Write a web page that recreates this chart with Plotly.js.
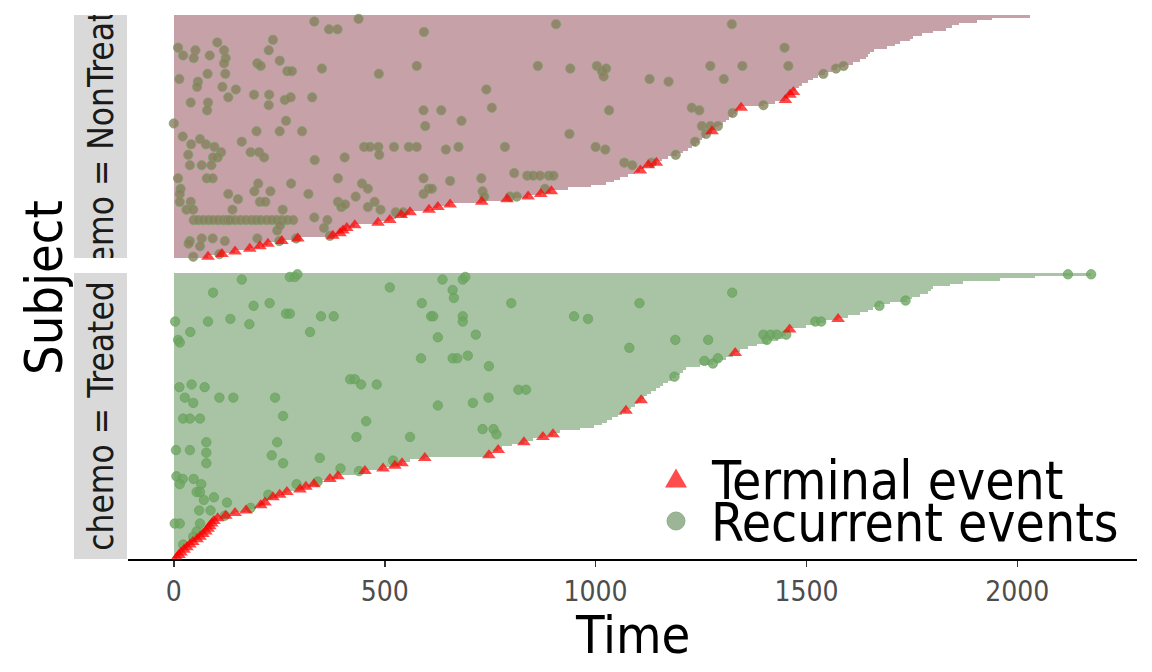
<!DOCTYPE html>
<html>
<head>
<meta charset="utf-8">
<script src="https://cdn.plot.ly/plotly-3.0.1.min.js"></script>
<style>html,body{margin:0;padding:0;background:#fff}#chart{width:1152px;height:672px}</style>
</head>
<body>
<div id="chart"></div>
<script>
// ---------------- data ----------------
const groups = ['NonTreated', 'Treated'];
const stripPrefix = 'chemo = ';
const seriesNames = ['Terminal event', 'Recurrent events'];
const axisTitles = ['Time', 'Subject'];
const tickVals = [0, 500, 1000, 1500, 2000];
const tickText = ['0', '500', '1000', '1500', '2000'];

// follow-up time of every subject, sorted (index 0 = shortest, at the bottom)
const followNon = [81,114,145,180,204,223,256,294,377,394,401,410,429,484,512,527,539,560,605,626,
  655,730,790,840,870,895,935,990,1025,1044,1058,1077,1094,1106,1115,1125,1144,1158,1172,1193,
  1208,1219,1229,1238,1246,1253,1260,1267,1276,1284,1293,1302,1310,1317,1326,1333,1338,1345,1400,1426,
  1450,1457,1461,1469,1476,1483,1490,1504,1516,1528,1544,1561,1573,1592,1610,1628,1642,1646,1651,1660,
  1690,1710,1722,1746,1753,1775,1800,1830,1845,1862,1905,1941,2030];
const termNon = [0,1,2,3,4,5,6,7,8,9,10,11,12,13,14,16,17,18,19,20,21,22,23,24,25,33,35,36,48,57,60,62,63];
const recNonRow = [90,91,87,87,86,89,82,83,80,77, 79,76,77,79,76,74,79,74,73,75,
  71,71,72,70,73,73,72,73,71,69, 72,68,67,70,70,65,65,64,61,62,
  62,58,60,61,61,59,59,56,52,56, 56,64,57,52,50,51,46,48,48,48,
  47,43,45,43,42,39,40,38,38,44, 40,40,38,37,38,42,42,42,39,42,
  42,42,41,42,42,42,41,35,35,35, 30,30,30,30,30,29,30,32,31,31,
  31,31,31,26,24,21,21,18,18,24, 22,18,28,25,25,21,21,18,28,24,
  15,14,11,21,19,20,23,28,26,19, 21,18,24,26,26,25,23,26,23,23, 17,17,
  14,14,14,14,14,14,14,14,14,14,14,14,14,14,14,14,14,14,14,14,14,
  10,12,6,7,7,6,4,5,7,0,1,6,7,8,
  73,73,73,68,67,68,70,72,73,56,57,56,55,58,36,35,36,39,44,50,50,50,47,89,80];
const recNonTime = [333,438,368,388,593,906,103,235,10,22, 51,47,85,119,123,119,225,198,206,251,
  269,280,351,486,576,863,940,1003,1015,1019, 1025,13,57,80,122,55,115,147,129,190,
  226,225,263,277,328,40,81,79,266,592, 634,741,754,682,596,0,21,196,251,304,
  938,41,62,76,96,34,112,104,93,161, 182,202,214,334,405,451,465,485,487,522,
  557,576,645,675,785,1000,1023,38,66,89, 10,78,92,389,592,655,729,807,838,852,
  868,889,900,16,14,14,40,30,46,129, 152,139,200,191,229,204,217,258,278,319,
  333,364,356,389,397,406,431,446,460,460, 476,490,592,604,612,732,736,880,797,813, 526,544,
  47,58,70,82,93,105,117,127,133,145,158,171,184,195,206,220,232,244,256,269,283,
  245,252,38,66,92,121,62,35,198,46,108,250,290,370,
  1272,1348,1457,1128,1173,1304,1540,1570,1588,1032,1228,1246,1325,1398,1068,1087,1133,1190,1236,1252,1272,1290,1262,1323,1448];

const followTrt = [7,12,17,24,31,38,45,55,62,69,76,81,85,90,95,104,123,145,171,195,
  206,216,223,235,251,268,299,313,332,351,370,389,429,453,496,524,541,560,595,747,
  754,769,778,802,830,852,875,899,916,963,996,1015,1027,1039,1053,1063,1072,1084,1094,1101,
  1108,1115,1122,1132,1144,1153,1160,1172,1181,1191,1200,1208,1215,1248,1279,1295,1310,1326,1331,1343,
  1362,1383,1409,1433,1445,1452,1456,1460,1499,1521,1544,1575,1599,1628,1646,1658,1675,1699,1738,1750,
  1770,1789,1796,1801,1841,1872,1960,2043,2175];
const termTrt = [0,1,2,3,4,5,6,7,8,9,10,11,12,13,14,15,16,17,18,20,21,23,24,25,26,27,28,30,31,33,34,35,36,38,39,41,44,46,47,56,60,78,87,91];
const recTrtRow = [106,107,107,108,103,106,106,107,102,99, 101,96,97,93,93,92,92,97,97,90,
  90,91,89,86,83,82,86,92,92,92, 90,84,85,92,91,76,76,76,77,73,
  65,66,65,68,68,66,66,61,59,61, 61,61,54,58,59,61,64,64,53,53,
  53,52,46,46,49,49,47,41,41,44, 40,36,44,39,36,38,34,37,31,30,
  28,30,28,25,25,22,23,18,18,21, 24,28,29,33,13,13,13,10,8,5, 19,16,
  97,101,80,83,83,75,74,76,69,85, 85,85,85,83,90,90,96,98,108,108];
const recTrtTime = [161,275,287,293,512,637,685,691,661,664, 93,189,227,266,275,349,379,588,800,3,
  81,134,179,39,10,14,323,610,615,685, 685,626,716,949,982,586,661,672,697,747,
  13,42,73,418,429,444,481,26,46,108, 141,240,259,626,709,746,817,835,22,38,
  62,456,433,560,732,758,765,5,38,77, 77,77,245,232,259,346,395,520,6,21,
  14,47,65,54,62,71,95,60,87,126, 224,291,341,439,2,14,62,54,46,22, 182,121,
  1104,1324,1080,1189,1267,1258,1278,1290,1187,1398, 1415,1430,1452,1406,1521,1535,1673,1735,2120,2175];

// ---------------- styling / layout ----------------
const FONT = '"DejaVu Sans Condensed", "Liberation Sans", sans-serif';
const W = 1152, H = 672, MT = 15, MB = 113;
const PH = H - MT - MB;
const px = v => v / W;                 // horizontal pixel -> paper
const py = v => (H - MB - v) / PH;     // vertical pixel -> paper
const topDom = [py(258), py(15)];
const botDom = [py(559), py(273)];

const panels = [
  {follow: followNon, term: termNon, recRow: recNonRow, recTime: recNonTime, yaxis: 'y',
   barColor: '#C6A2A8', recFill: 'rgba(135,128,92,0.8)', recLine: 'rgba(120,165,110,0.6)',
   sx: 'x2', sy: 'y3', label: stripPrefix + groups[0]},
  {follow: followTrt, term: termTrt, recRow: recTrtRow, recTime: recTrtTime, yaxis: 'y2',
   barColor: '#A9C4A5', recFill: 'rgba(110,165,98,0.8)', recLine: 'rgba(100,160,90,0.6)',
   sx: 'x3', sy: 'y4', label: stripPrefix + groups[1]}
];

const traces = [];
panels.forEach(p => {
  traces.push({type: 'bar', orientation: 'h', x: p.follow, y: p.follow.map((_, i) => i),
    width: 1, xaxis: 'x', yaxis: p.yaxis, marker: {color: p.barColor, line: {width: 0}},
    hoverinfo: 'skip', showlegend: false});
});
panels.forEach(p => {
  traces.push({type: 'scatter', mode: 'markers', name: seriesNames[1], x: p.recTime, y: p.recRow,
    xaxis: 'x', yaxis: p.yaxis, cliponaxis: false,
    marker: {symbol: 'circle', size: 9.5, color: p.recFill, line: {color: p.recLine, width: 1}},
    hoverinfo: 'x', showlegend: false});
});
panels.forEach(p => {
  traces.push({type: 'scatter', mode: 'markers', name: seriesNames[0],
    x: p.term.map(r => p.follow[r]), y: p.term, xaxis: 'x', yaxis: p.yaxis, cliponaxis: false,
    marker: {symbol: 'triangle-up', size: 12, color: 'rgba(255,0,0,0.72)', line: {width: 0}},
    hoverinfo: 'x', showlegend: false});
});
// facet strips (gray boxes with clipped rotated labels)
panels.forEach(p => {
  traces.push({type: 'bar', x: [0], y: [1], width: [1], xaxis: p.sx, yaxis: p.sy,
    marker: {color: '#D9D9D9', line: {width: 0}}, text: [p.label], textposition: 'inside',
    insidetextanchor: 'middle', textangle: -90, constraintext: 'none', cliponaxis: true,
    insidetextfont: {family: FONT, size: 35, color: '#1A1A1A'}, hoverinfo: 'skip', showlegend: false});
});

const hiddenY = (dom, n, anchor) => ({domain: dom, range: [-0.5, n - 0.5], anchor: anchor,
  visible: false, fixedrange: true});
const stripX = (anchor) => ({domain: [px(74), px(127)], range: [-0.5, 0.5], anchor: anchor,
  visible: false, fixedrange: true});

const layout = {
  width: W, height: H,
  margin: {l: 0, r: 0, t: MT, b: MB, pad: 0},
  paper_bgcolor: '#fff', plot_bgcolor: 'rgba(0,0,0,0)',
  font: {family: FONT, color: '#000'},
  showlegend: false, bargap: 0, barmode: 'overlay',
  xaxis: {domain: [px(128), px(1137)], range: [-108.75, 2283.75], anchor: 'y2',
    tickmode: 'array', tickvals: tickVals, ticktext: tickText,
    tickfont: {family: FONT, size: 28, color: '#4D4D4D'},
    ticks: 'outside', ticklen: 6, tickwidth: 1.6, tickcolor: '#333333',
    showline: true, linecolor: '#000', linewidth: 2, showgrid: false, zeroline: false,
    fixedrange: true},
  yaxis: hiddenY(topDom, followNon.length, 'x'),
  yaxis2: hiddenY(botDom, followTrt.length, 'x'),
  xaxis2: stripX('y3'),
  xaxis3: stripX('y4'),
  yaxis3: {domain: topDom, range: [0, 1], anchor: 'x2', visible: false, fixedrange: true},
  yaxis4: {domain: botDom, range: [0, 1], anchor: 'x3', visible: false, fixedrange: true},
  shapes: [
    {type: 'path', xref: 'paper', yref: 'paper',
     path: `M ${px(665)} ${py(487.5)} L ${px(687)} ${py(487.5)} L ${px(676)} ${py(468.5)} Z`,
     fillcolor: 'rgba(255,0,0,0.7)', line: {width: 0}},
    {type: 'circle', xref: 'paper', yref: 'paper', x0: px(667), x1: px(685), y0: py(530), y1: py(512),
     fillcolor: '#9DB597', line: {color: '#8FAF88', width: 1}}
  ],
  annotations: [
    {text: axisTitles[0], xref: 'paper', yref: 'paper', x: px(632.5), y: py(635),
     showarrow: false, xanchor: 'center', yanchor: 'middle', font: {family: FONT, size: 52, color: '#000'}},
    {text: axisTitles[1], xref: 'paper', yref: 'paper', x: px(44), y: py(288), textangle: -90,
     showarrow: false, xanchor: 'center', yanchor: 'middle', font: {family: FONT, size: 52, color: '#000'}},
    {text: seriesNames[0], xref: 'paper', yref: 'paper', x: px(709), y: py(480), showarrow: false,
     xanchor: 'left', yanchor: 'middle', font: {family: FONT, size: 53, color: '#000'}},
    {text: seriesNames[1], xref: 'paper', yref: 'paper', x: px(709), y: py(522), showarrow: false,
     xanchor: 'left', yanchor: 'middle', font: {family: FONT, size: 53, color: '#000'}}
  ]
};

Plotly.newPlot('chart', traces, layout, {displayModeBar: false, staticPlot: true});
</script>
</body>
</html>
